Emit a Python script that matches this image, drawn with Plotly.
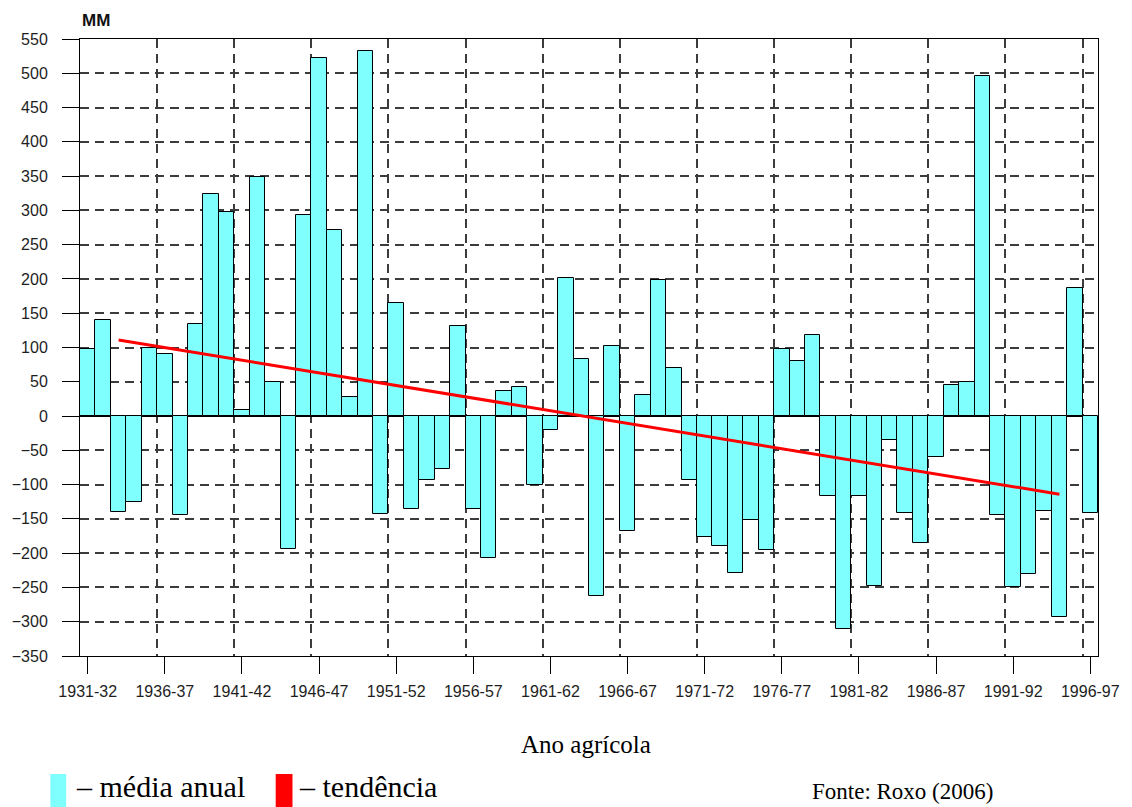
import plotly.graph_objects as go

years = ["1931-32", "1932-33", "1933-34", "1934-35", "1935-36", "1936-37", "1937-38", "1938-39",
         "1939-40", "1940-41", "1941-42", "1942-43", "1943-44", "1944-45", "1945-46", "1946-47",
         "1947-48", "1948-49", "1949-50", "1950-51", "1951-52", "1952-53", "1953-54", "1954-55",
         "1955-56", "1956-57", "1957-58", "1958-59", "1959-60", "1960-61", "1961-62", "1962-63",
         "1963-64", "1964-65", "1965-66", "1966-67", "1967-68", "1968-69", "1969-70", "1970-71",
         "1971-72", "1972-73", "1973-74", "1974-75", "1975-76", "1976-77", "1977-78", "1978-79",
         "1979-80", "1980-81", "1981-82", "1982-83", "1983-84", "1984-85", "1985-86", "1986-87",
         "1987-88", "1988-89", "1989-90", "1990-91", "1991-92", "1992-93", "1993-94", "1994-95",
         "1995-96", "1996-97"]

anomaly_mm = [98, 140, -140, -126, 100, 90, -145, 135,
              324, 298, 9, 348, 49, -194, 294, 523,
              272, 28, 532, -143, 165, -136, -93, -77,
              131, -135, -207, 36, 43, -100, -21, 202,
              83, -263, 102, -167, 31, 198, 70, -93,
              -176, -190, -229, -152, -196, 98, 80, 118,
              -117, -311, -117, -248, -35, -141, -185, -59,
              46, 49, 496, -145, -250, -231, -139, -293,
              187, -142]

trend_years = ["1933-34", "1994-95"]
trend_mm = [111, -114]

tick_labels = ["1931-32", "1936-37", "1941-42", "1946-47", "1951-52", "1956-57", "1961-62",
               "1966-67", "1971-72", "1976-77", "1981-82", "1986-87", "1991-92", "1996-97"]
y_ticks = list(range(-350, 551, 50))

pos = {y: i for i, y in enumerate(years)}
xb = [pos[y] for y in years]
xt = [pos[y] for y in trend_years]
tickvals = [pos[t] for t in tick_labels]
grid_x = [pos[t] - 0.5 for t in tick_labels[1:]]

CYAN = "#80FFFF"
RED = "#FF0000"
GRID = "#3c3c3c"

fig = go.Figure()
fig.add_trace(go.Bar(x=xb, y=anomaly_mm, width=1.0,
                     marker=dict(color=CYAN, line=dict(color="black", width=1)),
                     showlegend=False))
fig.add_trace(go.Scatter(x=xt, y=trend_mm, mode="lines",
                         line=dict(color=RED, width=3), showlegend=False))

tickfont = dict(family="Liberation Sans, Arial, sans-serif", size=16, color="#1e1e1e")

fig.update_layout(
    width=1132, height=807,
    margin=dict(l=77, r=25, t=39, b=151),
    paper_bgcolor="white", plot_bgcolor="white",
    bargap=0,
    xaxis=dict(range=[-0.5, len(years) - 0.5], tickmode="array", tickvals=tickvals,
               ticktext=tick_labels, ticks="outside", ticklen=17, tickwidth=1,
               tickcolor="black", showgrid=False, zeroline=False,
               showline=True, linecolor="black", linewidth=1, mirror=True,
               tickfont=tickfont, ticklabelstandoff=4,
               minor=dict(tickmode="array", tickvals=grid_x, showgrid=True,
                          gridcolor=GRID, gridwidth=1.5, griddash="9px,6px", ticks="")),
    yaxis=dict(range=[-350, 550], tickmode="array", tickvals=y_ticks,
               ticks="outside", ticklen=17, tickwidth=1, tickcolor="black",
               showgrid=True, gridcolor=GRID, gridwidth=1.5, griddash="9px,6px",
               zeroline=True, zerolinecolor="black", zerolinewidth=1.2,
               showline=True, linecolor="black", linewidth=1, mirror=True,
               tickfont=tickfont, ticklabelstandoff=11),
)

def py(px):
    return (656 - px) / 617.0

def pxx(px):
    return (px - 77) / 1030.0

annotations = [
    dict(text="<b>MM</b>", x=pxx(77), y=py(21), xanchor="left", yanchor="middle",
         font=dict(family="Liberation Sans, Arial, sans-serif", size=17, color="#111")),
    dict(text="Ano agrícola", x=pxx(589), y=py(744), xanchor="center", yanchor="middle",
         font=dict(family="Liberation Serif, Times New Roman, serif", size=25, color="black")),
    dict(text="– média anual", x=pxx(71), y=py(786), xanchor="left", yanchor="middle",
         font=dict(family="Liberation Serif, Times New Roman, serif", size=30, color="black")),
    dict(text="– tendência", x=pxx(297), y=py(786), xanchor="left", yanchor="middle",
         font=dict(family="Liberation Serif, Times New Roman, serif", size=30, color="black")),
    dict(text="Fonte: Roxo (2006)", x=pxx(816), y=py(791), xanchor="left", yanchor="middle",
         font=dict(family="Liberation Serif, Times New Roman, serif", size=23, color="black")),
]
for a in annotations:
    a.update(xref="paper", yref="paper", showarrow=False)
fig.update_layout(annotations=annotations)

fig.update_layout(shapes=[
    dict(type="rect", xref="paper", yref="paper", x0=pxx(47), x1=pxx(63), y0=py(807), y1=py(774),
         fillcolor=CYAN, line=dict(width=0)),
    dict(type="rect", xref="paper", yref="paper", x0=pxx(275), x1=pxx(292), y0=py(807), y1=py(774),
         fillcolor=RED, line=dict(width=0)),
])

fig.write_html("out.html")
